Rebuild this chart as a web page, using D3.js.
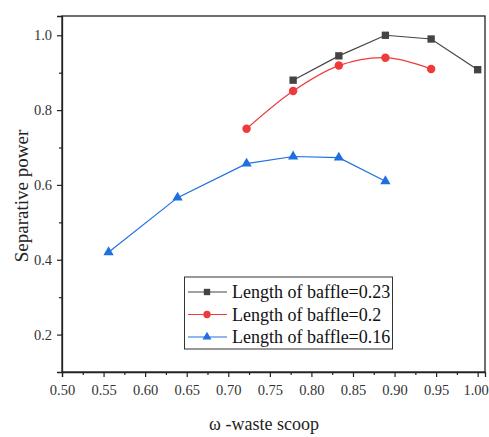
<!DOCTYPE html>
<html>
<head>
<meta charset="utf-8">
<script src="https://cdn.jsdelivr.net/npm/d3@7"></script>
<style>
  html, body { margin: 0; padding: 0; background: #fff; }
  svg { display: block; }
</style>
</head>
<body>
<svg id="chart" width="489" height="437"></svg>
<script>
// Separative power against the waste-scoop parameter ω, one series per baffle length
const xLong = [0.778, 0.833, 0.889, 0.944, 1.0];
const yLong = [0.88, 0.945, 1.0, 0.99, 0.908];

const xMid = [0.722, 0.778, 0.833, 0.889, 0.944];
const yMid = [0.75, 0.851, 0.919, 0.94, 0.91];

const xShort = [0.556, 0.639, 0.722, 0.778, 0.833, 0.889];
const yShort = [0.42, 0.566, 0.657, 0.676, 0.673, 0.61];

const seriesNames = ["Length of baffle=0.23", "Length of baffle=0.2", "Length of baffle=0.16"];
const xTicks = [0.5, 0.55, 0.6, 0.65, 0.7, 0.75, 0.8, 0.85, 0.9, 0.95, 1.0];
const yTicks = [0.2, 0.4, 0.6, 0.8, 1.0];

const serif = "'Liberation Serif', 'Times New Roman', serif";
const svg = d3.select("#chart");
const plotL = 62, plotR = 485, plotT = 16, plotB = 372;

const x = d3.scaleLinear().domain([0.5, 1.0088]).range([plotL, plotR]);
const y = d3.scaleLinear().domain([0.1, 1.0515]).range([plotB, plotT]);

const axisColor = "#222";
const labelColor = "#333";

// frame
svg.append("rect")
  .attr("x", plotL).attr("y", plotT)
  .attr("width", plotR - plotL).attr("height", plotB - plotT)
  .attr("fill", "none").attr("stroke", axisColor).attr("stroke-width", 1.3);

// minor ticks
const xMinor = d3.range(0.525, 1.0, 0.05);
const yMinor = [0.3, 0.5, 0.7, 0.9];

const gx = svg.append("g").attr("transform", `translate(0,${plotB})`)
  .call(d3.axisBottom(x).tickValues(xTicks).tickFormat(d3.format(".2f")).tickSize(5).tickPadding(8));
svg.append("g").attr("transform", `translate(0,${plotB})`)
  .call(d3.axisBottom(x).tickValues(xMinor).tickFormat("").tickSize(3))
  .call(g => g.select(".domain").remove());

svg.append("g").attr("transform", `translate(${plotL},0)`)
  .call(d3.axisLeft(y).tickValues(yTicks).tickFormat(d3.format(".1f")).tickSize(5).tickPadding(5));
svg.append("g").attr("transform", `translate(${plotL},0)`)
  .call(d3.axisLeft(y).tickValues(yMinor).tickFormat("").tickSize(3))
  .call(g => g.select(".domain").remove());

svg.selectAll(".domain").attr("stroke", axisColor).attr("stroke-width", 1.3);
svg.selectAll(".tick line").attr("stroke", axisColor).attr("stroke-width", 1.2);
svg.selectAll(".tick text")
  .attr("fill", labelColor)
  .attr("font-family", serif)
  .style("font-family", serif)
  .style("font-size", "14.5px");

// keep the last x label inside the page edge
gx.selectAll(".tick text").filter(d => d === 1.0).attr("dx", -2);

// axis titles
svg.append("text")
  .attr("x", 264).attr("y", 430)
  .attr("text-anchor", "middle")
  .attr("fill", "#222")
  .style("font-family", serif)
  .style("font-size", "18px")
  .text("ω -waste scoop");

svg.append("text")
  .attr("transform", "translate(28,196) rotate(-90)")
  .attr("text-anchor", "middle")
  .attr("fill", "#222")
  .style("font-family", serif)
  .style("font-size", "19px")
  .text("Separative power");

const series = [
  { name: seriesNames[0], xs: xLong, ys: yLong, color: "#444444", shape: d3.symbolSquare, size: 54, curve: d3.curveLinear },
  { name: seriesNames[1], xs: xMid, ys: yMid, color: "#f03a3a", shape: d3.symbolCircle, size: 56, curve: d3.curveCatmullRom },
  { name: seriesNames[2], xs: xShort, ys: yShort, color: "#1f6fe0", shape: d3.symbolTriangle, size: 46, curve: d3.curveLinear }
];

series.forEach(s => {
  const pts = s.xs.map((v, i) => [v, s.ys[i]]);
  svg.append("path")
    .datum(pts)
    .attr("fill", "none")
    .attr("stroke", s.color)
    .attr("stroke-width", 1.2)
    .attr("d", d3.line().x(d => x(d[0])).y(d => y(d[1])).curve(s.curve));
  svg.append("g").selectAll("path")
    .data(pts)
    .join("path")
    .attr("transform", d => `translate(${x(d[0])},${y(d[1])})`)
    .attr("d", d3.symbol().type(s.shape).size(s.size))
    .attr("fill", s.color);
});

// legend
const lg = svg.append("g");
lg.append("rect")
  .attr("x", 184.5).attr("y", 277)
  .attr("width", 208).attr("height", 72)
  .attr("fill", "#fff").attr("stroke", "#333").attr("stroke-width", 1);
const rowY = [292, 314.5, 337];
series.forEach((s, i) => {
  lg.append("line")
    .attr("x1", 188).attr("x2", 227)
    .attr("y1", rowY[i]).attr("y2", rowY[i])
    .attr("stroke", s.color).attr("stroke-width", 1.2);
  lg.append("path")
    .attr("transform", `translate(207,${rowY[i]})`)
    .attr("d", d3.symbol().type(s.shape).size(s.size * 0.75))
    .attr("fill", s.color);
  lg.append("text")
    .attr("x", 232).attr("y", rowY[i] + 6)
    .attr("fill", "#111")
    .style("font-family", serif)
    .style("font-size", "18px")
    .text(s.name);
});
</script>
</body>
</html>
